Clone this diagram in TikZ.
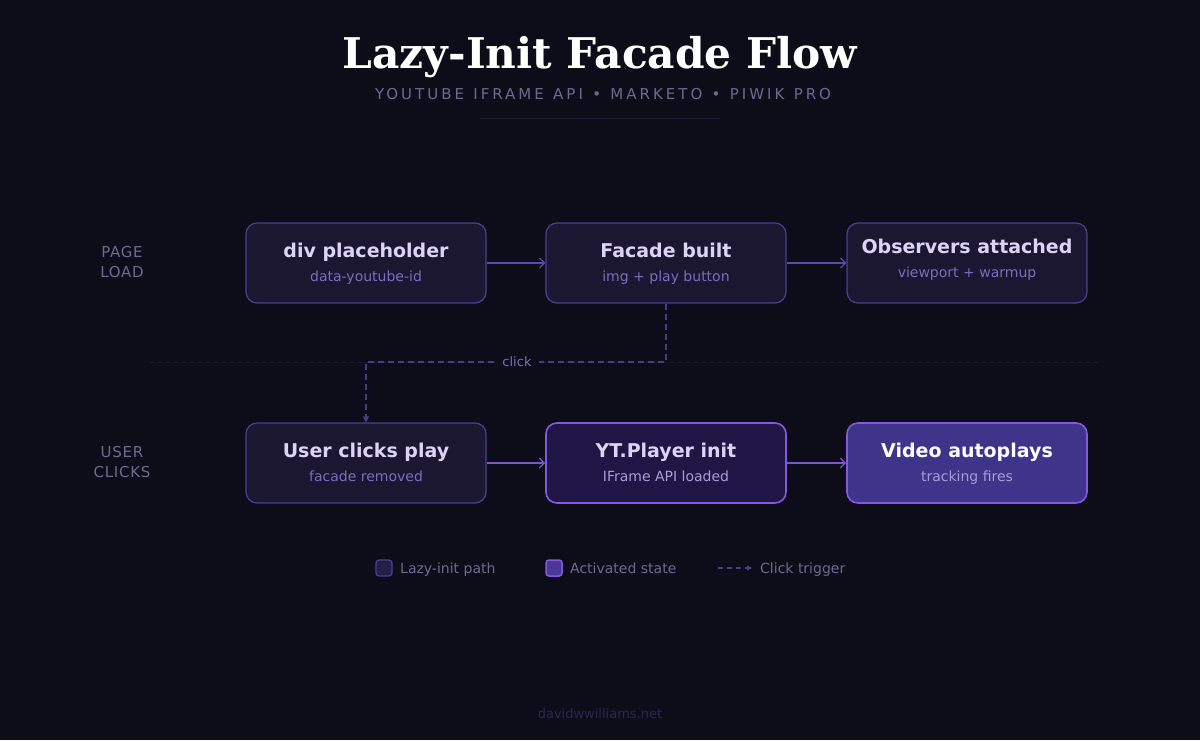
\documentclass[tikz,border=0pt]{standalone}
\usepackage{fontspec}
\setmainfont{DejaVu Sans}
\newfontfamily\titlefont{DejaVu Serif}
\newfontfamily\spacedfont[LetterSpace=20,WordSpace=1.2]{DejaVu Sans}
\usetikzlibrary{arrows.meta}
\definecolor{bg}{HTML}{0D0D1A}
\definecolor{boxfill}{HTML}{1B1731}
\definecolor{boxline}{HTML}{4A3F94}
\definecolor{actfill}{HTML}{201646}
\definecolor{actline}{HTML}{8657E0}
\definecolor{hotfill}{HTML}{3E3489}
\definecolor{ttlcol}{HTML}{DCD4F4}
\definecolor{subcol}{HTML}{7A6CC0}
\definecolor{actsub}{HTML}{A79DDA}
\definecolor{lblcol}{HTML}{6E6890}
\definecolor{arrcol}{HTML}{5A4BAA}
\definecolor{arrcol2}{HTML}{7A58C8}
\definecolor{dashcol}{HTML}{463C88}
\definecolor{sepcol}{HTML}{1E1B33}
\definecolor{footcol}{HTML}{2B2652}
\begin{document}
\begin{tikzpicture}[x=1pt,y=-1pt,
  box/.style={draw=boxline, line width=1.2pt, fill=boxfill, rounded corners=11pt, minimum width=240pt, minimum height=80pt, inner sep=0pt},
  actbox/.style={box, draw=actline, line width=1.6pt, fill=actfill},
  hotbox/.style={box, draw=actline, line width=1.6pt, fill=hotfill},
  ttl/.style={text=ttlcol, font=\bfseries\fontsize{19}{22}\selectfont, inner sep=0pt, anchor=base},
  sub/.style={text=subcol, font=\fontsize{14}{16}\selectfont, inner sep=0pt, anchor=base},
  lbl/.style={text=lblcol, font=\addfontfeature{LetterSpace=5}\fontsize{15}{20}\selectfont, align=center, inner sep=0pt},
  flow/.style={draw=arrcol, line width=1.3pt, -{Straight Barb[length=5pt,width=10pt,line width=1.3pt]}},
  flow2/.style={flow, draw=arrcol2},
  trig/.style={draw=dashcol, line width=1.2pt, dash pattern=on 6pt off 4pt, -{Triangle[length=6pt,width=6pt]}},
  leg/.style={text=lblcol, font=\fontsize{14}{16}\selectfont, anchor=base west, inner sep=0pt}
]
\path[use as bounding box, fill=bg] (0,0) rectangle (1200,740);

% title
\node[text=white, font=\titlefont\bfseries\fontsize{42.3}{46}\selectfont, inner sep=0pt, anchor=base] (title) at (600,68) {Lazy-Init Facade Flow};
\node[text=lblcol, font=\spacedfont\fontsize{15}{17}\selectfont, inner sep=0pt, anchor=base] (subtitle) at (603,99.5) {YOUTUBE IFRAME API • MARKETO • PIWIK PRO};
\draw[sepcol, line width=1pt] (480,118) -- (720,118);

% separator
\draw[sepcol, line width=1pt, dash pattern=on 4pt off 4pt] (150,362) -- (1100,362);

% lane labels
\node[lbl] (lane1) at (122,262) {PAGE\\LOAD};
\node[lbl] (lane2) at (122,462) {USER\\CLICKS};

% row 1
\node[box] (a) at (366,263) {};
\node[ttl] (at) at (366,257) {div placeholder};
\node[sub] (as) at (366,281) {data-youtube-id};

\node[box] (b) at (666,263) {};
\node[ttl] (bt) at (666,257) {Facade built};
\node[sub] (bs) at (666,281) {img + play button};

\node[box] (c) at (967,263) {};
\node[ttl] (ct) at (967,253) {Observers attached};
\node[sub] (cs) at (967,277) {viewport + warmup};

% row 2
\node[box] (d) at (366,463) {};
\node[ttl] (dt) at (366,457) {User clicks play};
\node[sub] (ds) at (366,481) {facade removed};

\node[actbox] (e) at (666,463) {};
\node[ttl] (et) at (666,457) {YT.Player init};
\node[sub, text=actsub] (es) at (666,481) {IFrame API loaded};

\node[hotbox] (f) at (967,463) {};
\node[ttl, text=white!92!ttlcol] (ft) at (967,457) {Video autoplays};
\node[sub, text=actsub] (fs) at (967,481) {tracking fires};

% arrows
\draw[flow] (a.east) -- (b.west);
\draw[flow] (b.east) -- (c.west);
\draw[flow2] (d.east) -- (e.west);
\draw[flow2] (e.east) -- (f.west);

% click trigger
\coordinate (k1) at (666,362);
\coordinate (k2) at (366,362);
\draw[trig] (b.south) -- (k1) -- (k2) -- (d.north);
\node[text=subcol, fill=bg, font=\fontsize{13}{15}\selectfont, inner xsep=7pt, inner ysep=2.5pt] (click) at (517,362) {click};

% legend
\node[draw=boxline, fill=boxfill!80!boxline, line width=1.2pt, rounded corners=3pt, minimum size=16pt, inner sep=0pt] (l1) at (384,568) {};
\node[leg] (l1t) at (400,573) {Lazy-init path};
\node[draw=actline, fill=hotfill!85!actline, line width=1.5pt, rounded corners=3pt, minimum size=16pt, inner sep=0pt] (l2) at (554,568) {};
\node[leg] (l2t) at (570,573) {Activated state};
\coordinate (l3a) at (718,568);
\coordinate (l3b) at (752,568);
\node[leg] (l3t) at (760,573) {Click trigger};
\draw[draw=dashcol, line width=1.2pt, dash pattern=on 5pt off 4pt, -{Triangle[length=5pt,width=5pt]}] (l3a) -- (l3b);

% footer
\node[text=footcol, font=\fontsize{13}{15}\selectfont, inner sep=0pt, anchor=base] (foot) at (600,718) {davidwwilliams.net};
\end{tikzpicture}
\end{document}
